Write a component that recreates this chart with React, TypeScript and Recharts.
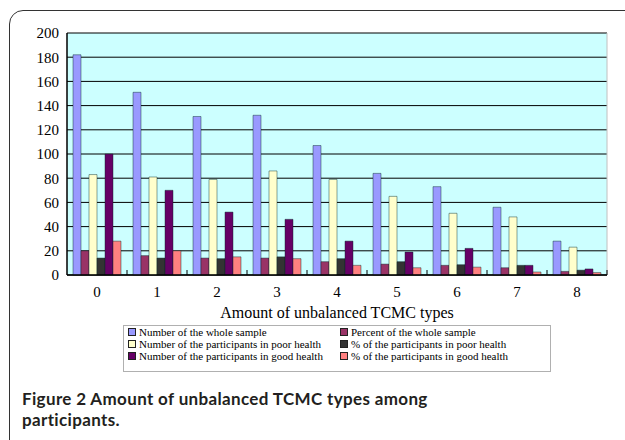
import React from 'react';
import { BarChart, Bar, XAxis, YAxis, CartesianGrid, Legend } from 'recharts';

const categories = ['0', '1', '2', '3', '4', '5', '6', '7', '8'];
const wholeSampleN = [182, 151, 131, 132, 107, 84, 73, 56, 28];
const wholeSamplePct = [20, 16, 14, 14, 11, 9, 8, 6, 3];
const poorHealthN = [83, 81, 79, 86, 79, 65, 51, 48, 23];
const poorHealthPct = [14, 14, 13.5, 15, 13.5, 11, 8.5, 8, 4];
const goodHealthN = [100, 70, 52, 46, 28, 19, 22, 8, 5];
const goodHealthPct = [28, 20, 15, 13.5, 8, 6, 6.5, 2.5, 2];
const yTicks = [0, 20, 40, 60, 80, 100, 120, 140, 160, 180, 200];

const series = [
  { key: 'a', name: 'Number of the whole sample', color: '#9999FF', values: wholeSampleN },
  { key: 'b', name: 'Percent of the whole sample', color: '#993366', values: wholeSamplePct },
  { key: 'c', name: 'Number of the participants in poor health', color: '#FFFFCC', values: poorHealthN },
  { key: 'd', name: '% of the participants in poor health', color: '#333333', values: poorHealthPct },
  { key: 'e', name: 'Number of the participants in good health', color: '#660066', values: goodHealthN },
  { key: 'f', name: '% of the participants in good health', color: '#FF8080', values: goodHealthPct },
];

const data = categories.map((c, i) => {
  const row: any = { cat: c };
  series.forEach((s) => {
    row[s.key] = s.values[i];
  });
  return row;
});

const serif = '"Liberation Serif", "Times New Roman", serif';

const XTick = (props: any) => {
  const { x, y, payload } = props;
  return (
    <g>
      <line x1={x + 30} x2={x + 30} y1={y} y2={y - 5} stroke="#000" strokeWidth={1} />
      <text x={x} y={y + 22} textAnchor="middle" fontFamily={serif} fontSize={15} fill="#000">
        {payload.value}
      </text>
    </g>
  );
};

const LegendContent = () => (
  <div
    style={{
      boxSizing: 'border-box',
      width: 428,
      height: 47,
      border: '1px solid #b0b0b0',
      background: '#fff',
      paddingLeft: 4,
      paddingTop: 0,
      display: 'grid',
      gridTemplateColumns: '212px 1fr',
      gridAutoRows: '12px',
      fontFamily: serif,
      fontSize: 11,
      lineHeight: '12px',
      color: '#000',
    }}
  >
    {series.map((s) => (
      <div key={s.key} style={{ display: 'flex', alignItems: 'center', whiteSpace: 'nowrap' }}>
        <span
          style={{
            display: 'inline-block',
            width: 6,
            height: 6,
            background: s.color,
            border: '1px solid #222',
            marginRight: 3,
          }}
        />
        <span>{s.name}</span>
      </div>
    ))}
  </div>
);

export default function App() {
  return (
    <div style={{ position: 'absolute', left: 0, top: 0, width: 625, height: 440, overflow: 'hidden', background: '#fff' }}>
      <div
        style={{
          position: 'absolute',
          left: 9,
          top: 10,
          width: 720,
          height: 520,
          border: '1.5px solid #333',
          borderRadius: 14,
          boxSizing: 'border-box',
        }}
      />
      <div style={{ position: 'absolute', left: 0, top: 0 }}>
        <BarChart
          width={625}
          height={440}
          data={data}
          margin={{ top: 33, right: 18, left: 10, bottom: 70 }}
          barCategoryGap="10%"
          barGap={0}
        >
          <CartesianGrid fill="#CCFFFF" stroke="#000" vertical={false} strokeWidth={1} />
          <CartesianGrid
            horizontal={false}
            stroke="#c0c0c0"
            verticalCoordinatesGenerator={({ offset }: any) => [offset.left + offset.width]}
          />
          <XAxis
            dataKey="cat"
            axisLine={{ stroke: '#000', strokeWidth: 1.5 }}
            tickLine={false}
            tickSize={0}
            tickMargin={0}
            tick={<XTick />}
            height={48}
            interval={0}
            label={{
              value: 'Amount of unbalanced TCMC types',
              position: 'insideBottom',
              offset: 5,
              style: { fontFamily: serif, fontSize: 16, fill: '#000' },
            }}
          />
          <YAxis
            domain={[0, 200]}
            ticks={yTicks}
            width={57}
            axisLine={{ stroke: '#000', strokeWidth: 1.5 }}
            tickLine={false}
            tick={{ fontFamily: serif, fontSize: 15, fill: '#000' }}
            interval={0}
          />
          <Legend
            content={<LegendContent />}
            wrapperStyle={{ left: 123, top: 325, width: 428, height: 47, bottom: 'auto' }}
          />
          {series.map((s) => (
            <Bar
              key={s.key}
              dataKey={s.key}
              name={s.name}
              fill={s.color}
              stroke="rgba(0,40,40,0.55)"
              strokeWidth={0.8}
              isAnimationActive={false}
            />
          ))}
        </BarChart>
      </div>
      <div
        style={{
          position: 'absolute',
          left: 22,
          top: 388,
          width: 590,
          fontFamily: 'Lato, "Open Sans", sans-serif',
          fontWeight: 700,
          fontSize: 17,
          letterSpacing: 0.35,
          lineHeight: '21px',
          color: '#231f20',
        }}
      >
        Figure 2 Amount of unbalanced TCMC types among
        <br />
        participants.
      </div>
    </div>
  );
}
